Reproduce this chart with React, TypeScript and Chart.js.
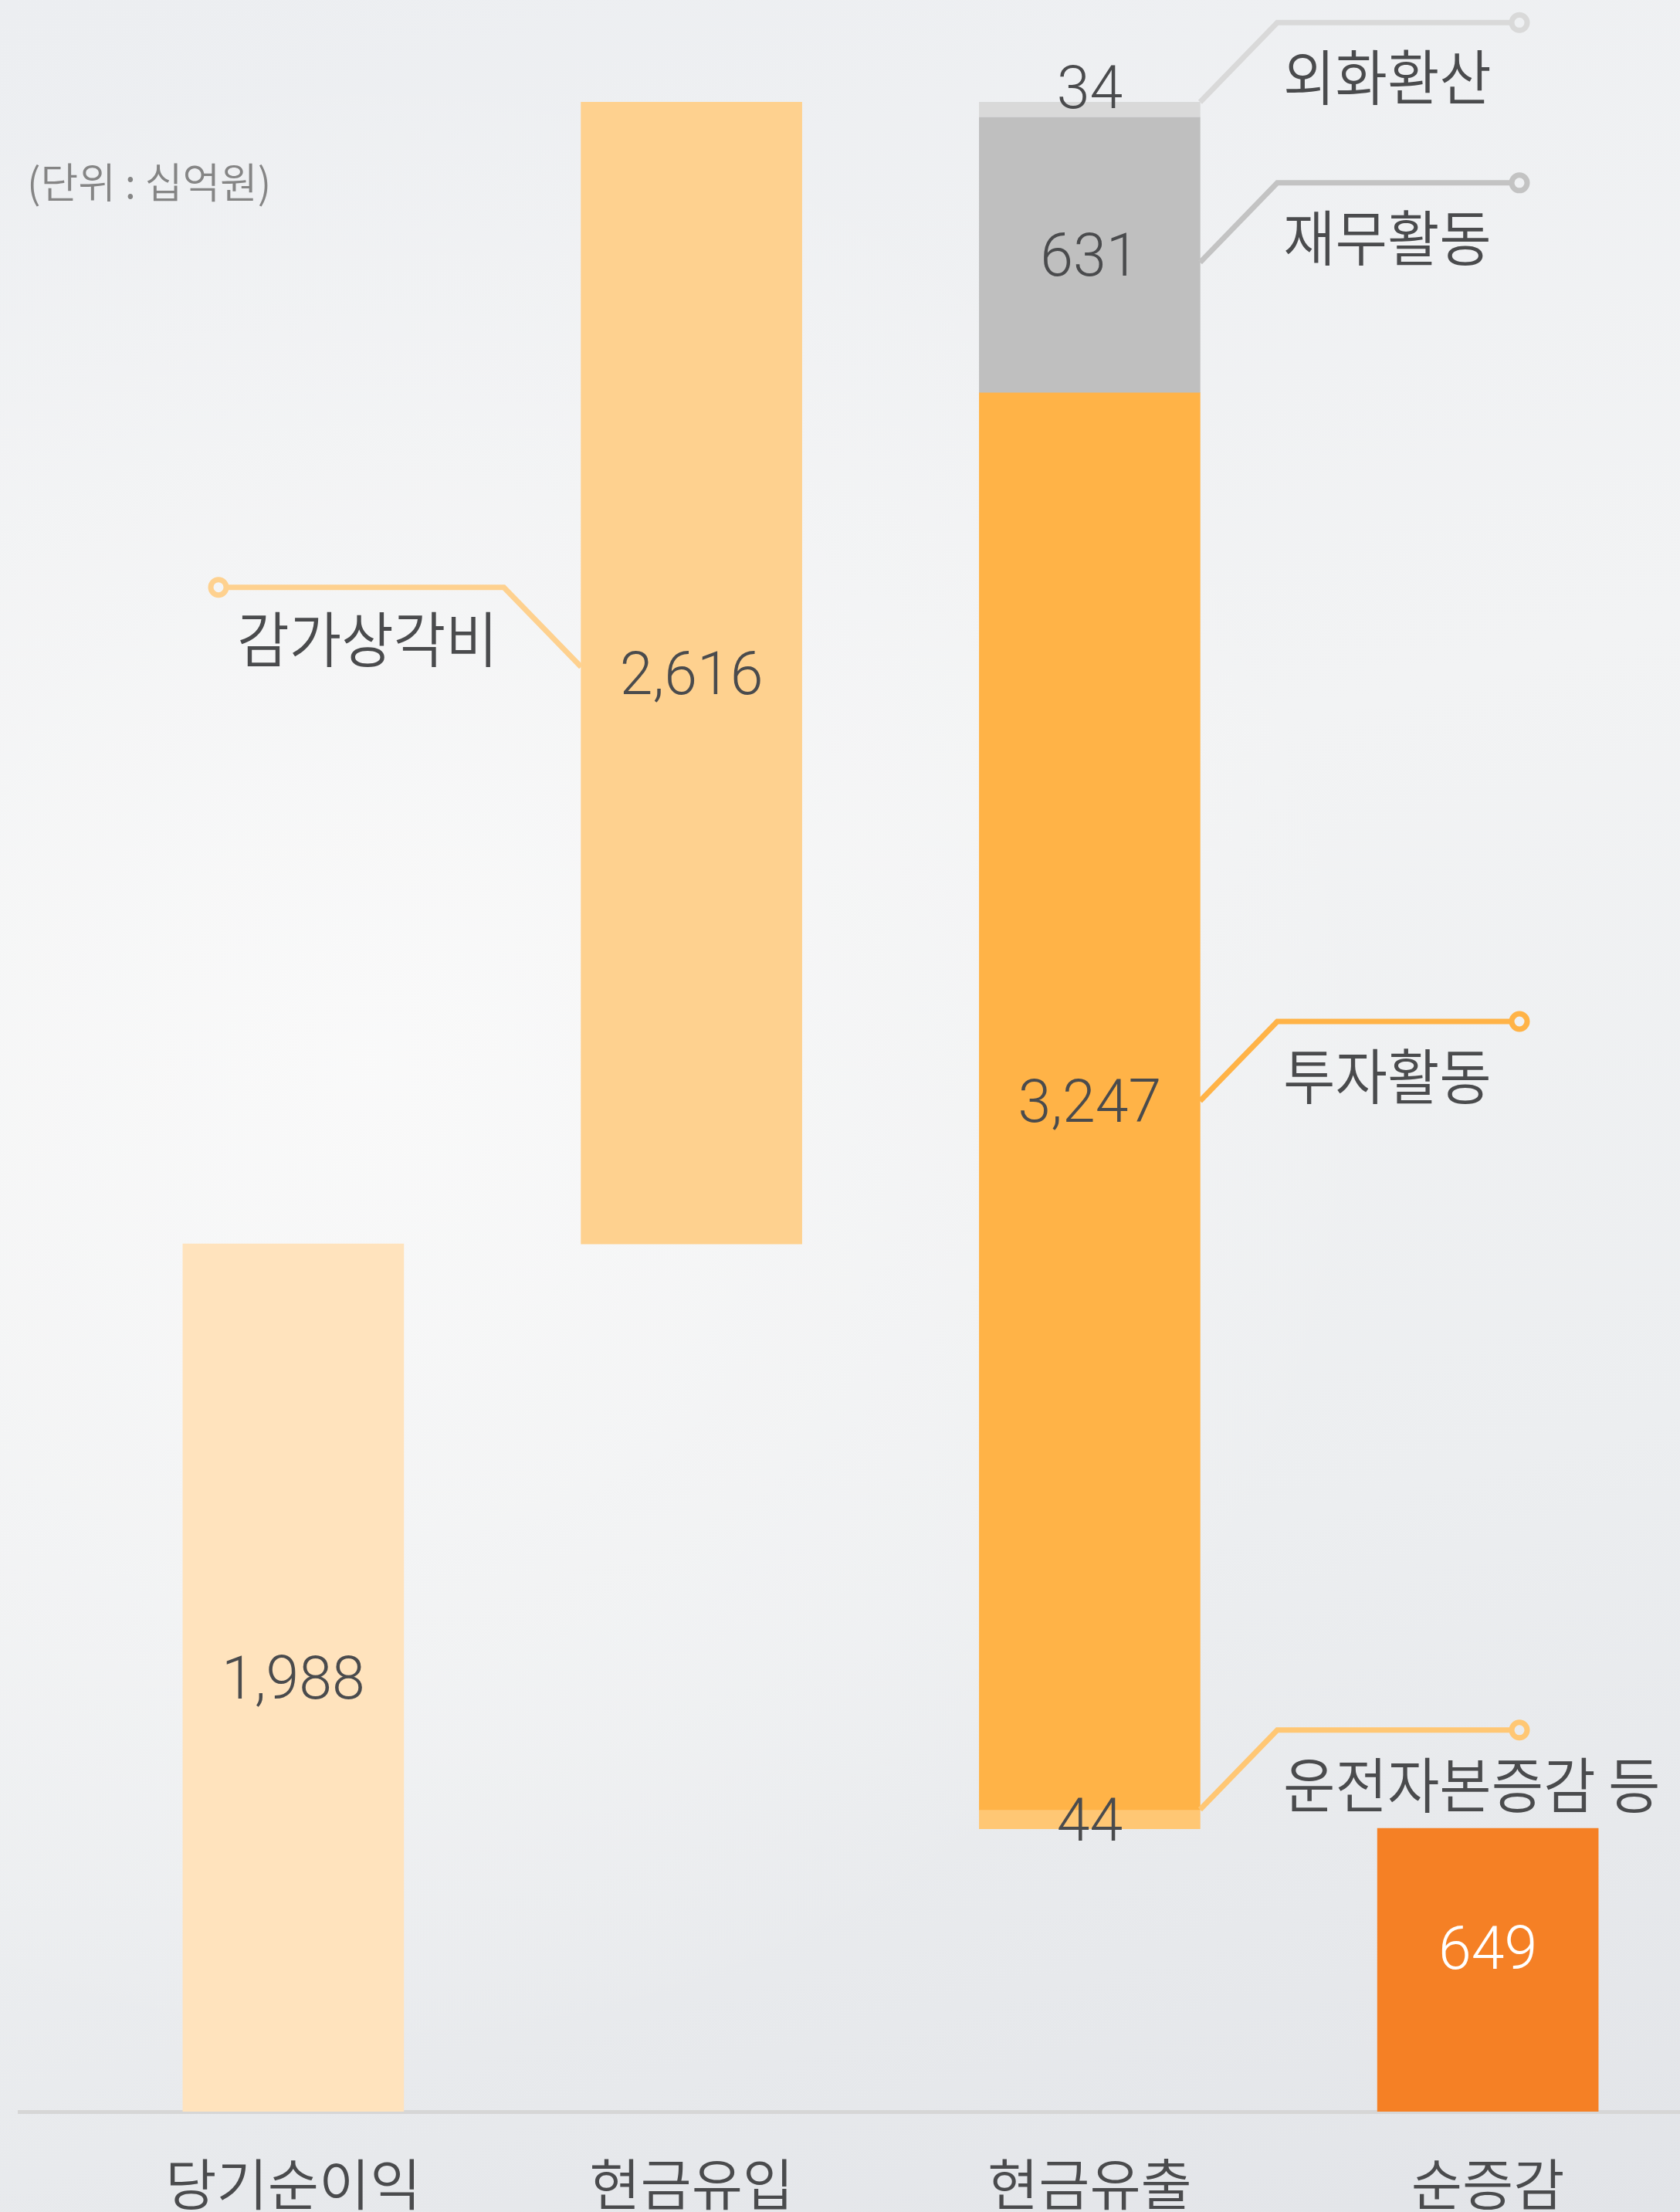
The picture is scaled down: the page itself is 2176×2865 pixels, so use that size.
import React, { useEffect, useRef } from 'react';
import { Chart, registerables } from 'chart.js';

Chart.register(...registerables);

// ---- data ----
const categories = ['당기순이익', '현금유입', '현금유출', '순증감'];
const netIncome = 1988;
const inflowLabel = '감가상각비';
const inflowValue = 2616;
const outflowLabels = ['외화환산', '재무활동', '투자활동', '운전자본증감 등'];
const outflowValues = [34, 631, 3247, 44];
const netChange = 649;
const unitLabel = '(단위 : 십억원)';

// ---- styles ----
const W = 2176;
const H = 2865;
const CW = 2185;
const KR = '"Noto Sans CJK KR", "Noto Sans", sans-serif';
const NUM = 'Roboto, "Noto Sans", sans-serif';
const TEXT = '#4a4b4d';

const outflowColors = ['#d9d9d9', '#bfbfbf', '#ffb347', '#ffc774'];
const outflowLineColors = ['#d9d9d9', '#c3c3c3', '#ffb347', '#ffc774'];
const outflowAnchor = ['top', 'mid', 'mid', 'top'];
const outflowAnchorShift = [0, 10, 0, 0];
const outflowLabelShift = [-29, 0, 0, 0];

type Info = {
  lo: number;
  hi: number;
  index: number;
  textColor: string;
  shift: number;
  callout?: { side: 'left' | 'right'; anchor: 'top' | 'mid'; aShift: number; color: string; text: string };
};

function buildData() {
  const infos: Info[] = [];
  const datasets: any[] = [];
  const mk = (label: string, index: number, lo: number, hi: number, color: string) => {
    const data: any[] = categories.map(() => null);
    data[index] = [lo, hi];
    datasets.push({
      label,
      data,
      backgroundColor: color,
      borderWidth: 0,
      grouped: false,
      barThickness: 286,
    });
  };
  mk(categories[0], 0, 0, netIncome, '#ffe3bd');
  infos.push({ lo: 0, hi: netIncome, index: 0, textColor: TEXT, shift: 0 });

  const top = netIncome + inflowValue;
  mk(inflowLabel, 1, netIncome, top, '#fed18f');
  infos.push({
    lo: netIncome, hi: top, index: 1, textColor: TEXT, shift: 0,
    callout: { side: 'left', anchor: 'mid', aShift: -8, color: '#fed18f', text: inflowLabel },
  });

  let cur = top;
  outflowValues.forEach((v, i) => {
    mk(outflowLabels[i], 2, cur - v, cur, outflowColors[i]);
    infos.push({
      lo: cur - v, hi: cur, index: 2, textColor: TEXT, shift: outflowLabelShift[i],
      callout: {
        side: 'right', anchor: outflowAnchor[i] as any, aShift: outflowAnchorShift[i],
        color: outflowLineColors[i], text: outflowLabels[i],
      },
    });
    cur -= v;
  });

  mk(categories[3], 3, 0, netChange, '#f58025');
  infos.push({ lo: 0, hi: netChange, index: 3, textColor: '#ffffff', shift: -29 });
  return { datasets, infos };
}

function drawText(ctx: CanvasRenderingContext2D, text: string, x: number, y: number, font: string, color: string, align: CanvasTextAlign, sx = 1) {
  ctx.save();
  ctx.font = font;
  ctx.fillStyle = color;
  ctx.textAlign = align;
  ctx.textBaseline = 'alphabetic';
  ctx.translate(x, y);
  ctx.scale(sx, 1);
  ctx.fillText(text, 0, 0);
  ctx.restore();
}

export default function App() {
  const ref = useRef<HTMLCanvasElement | null>(null);

  useEffect(() => {
    if (!ref.current) return;
    const { datasets, infos } = buildData();

    const overlay = {
      id: 'overlay',
      beforeDatasetsDraw(chart: any) {
        const ctx = chart.ctx as CanvasRenderingContext2D;
        const y0 = chart.scales.y.getPixelForValue(0);
        ctx.save();
        ctx.fillStyle = '#d6d6d6';
        ctx.fillRect(23, y0 - 2, CW - 23, 5);
        ctx.restore();
      },
      afterDatasetsDraw(chart: any) {
        const ctx = chart.ctx as CanvasRenderingContext2D;
        const ys = chart.scales.y;
        // unit label
        drawText(ctx, unitLabel, 35, 257, `350 54px ${KR}`, '#858585', 'left', 0.98);

        infos.forEach((info, di) => {
          const el = chart.getDatasetMeta(di).data[info.index];
          if (!el) return;
          const pHi = ys.getPixelForValue(info.hi);
          const pLo = ys.getPixelForValue(info.lo);
          const cy = (pHi + pLo) / 2 + info.shift;
          const value = Math.round(info.hi - info.lo).toLocaleString('en-US');
          const fs = 77;
          drawText(ctx, value, el.x, cy + fs * 0.355, `300 ${fs}px ${NUM}`, info.textColor, 'center');

          const c = info.callout;
          if (!c) return;
          const half = el.width / 2;
          const anchorY = (c.anchor === 'top' ? pHi : (pHi + pLo) / 2) + c.aShift;
          const cornerY = anchorY - 103;
          const r = 10;
          const fs2 = 78;
          ctx.save();
          ctx.strokeStyle = c.color;
          ctx.lineWidth = 7;
          ctx.lineJoin = 'miter';
          ctx.beginPath();
          if (c.side === 'right') {
            const ex = el.x + half;
            const cx = ex + 100;
            const endX = 1968;
            ctx.moveTo(ex, anchorY);
            ctx.lineTo(cx, cornerY);
            ctx.lineTo(endX - r, cornerY);
            ctx.stroke();
            ctx.beginPath();
            ctx.arc(endX, cornerY, r, 0, Math.PI * 2);
            ctx.stroke();
            ctx.restore();
            drawText(ctx, c.text, 1662, cornerY + 72 + fs2 * 0.37, `350 ${fs2}px ${KR}`, TEXT, 'left', 0.94);
          } else {
            const ex = el.x - half;
            const cx = ex - 100;
            const endX = 283;
            ctx.moveTo(ex, anchorY);
            ctx.lineTo(cx, cornerY);
            ctx.lineTo(endX + r, cornerY);
            ctx.stroke();
            ctx.beginPath();
            ctx.arc(endX, cornerY, r, 0, Math.PI * 2);
            ctx.stroke();
            ctx.restore();
            drawText(ctx, c.text, cx - 8, cornerY + 68 + fs2 * 0.37, `350 ${fs2}px ${KR}`, TEXT, 'right', 0.94);
          }
        });
      },
    };

    const chart = new Chart(ref.current, {
      type: 'bar',
      data: { labels: categories, datasets },
      options: {
        animation: false,
        responsive: false,
        maintainAspectRatio: false,
        layout: { padding: { left: 122, right: 0, top: 0, bottom: 0 } },
        plugins: { legend: { display: false }, tooltip: { enabled: false } },
        scales: {
          x: {
            grid: { display: false, drawTicks: false },
            border: { display: false },
            ticks: {
              color: TEXT,
              padding: 50,
              font: { family: KR, size: 72, weight: '350' as any },
            },
            afterFit: (scale: any) => {
              scale.height = 130;
            },
          },
          y: { display: false, min: 0, max: 4838 },
        },
      },
      plugins: [overlay],
    });
    return () => chart.destroy();
  }, []);

  return (
    <div
      style={{
        position: 'absolute',
        left: 0,
        top: 0,
        width: W,
        height: H,
        overflow: 'hidden',
        background:
          'radial-gradient(ellipse 60% 45% at 22% 48%, rgba(250,250,250,0.9) 0%, rgba(248,248,248,0.5) 50%, rgba(248,248,248,0) 100%), linear-gradient(165deg, #eceef1 0%, #f2f3f4 40%, #eceef0 70%, #e2e4e8 100%)',
      }}
    >
      <canvas ref={ref} width={CW} height={H} style={{ display: 'block', width: CW, height: H }} />
    </div>
  );
}
